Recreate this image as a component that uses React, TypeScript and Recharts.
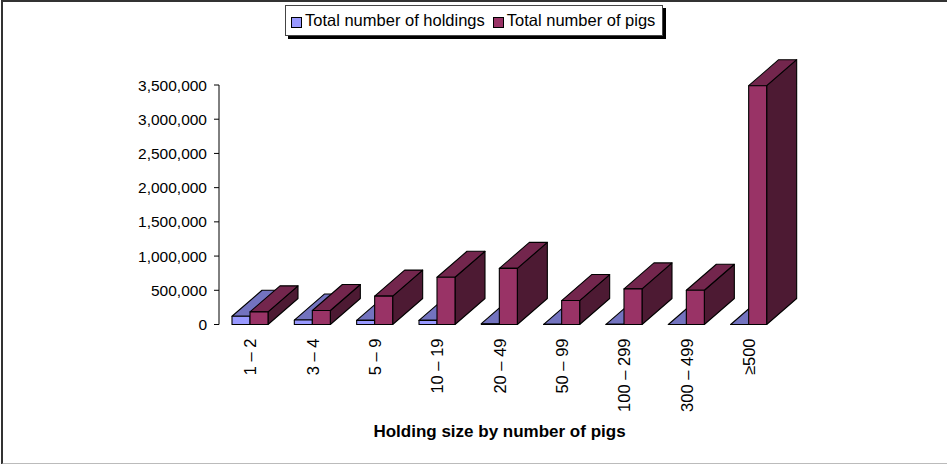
import React from 'react';
import { BarChart, Bar, XAxis, YAxis, Legend } from 'recharts';

const categories = ['1 – 2', '3 – 4', '5 – 9', '10 – 19', '20 – 49', '50 – 99', '100 – 299', '300 – 499', '≥500'];
const holdings = [120000, 65000, 60000, 60000, 12000, 2500, 1500, 500, 300];
const pigs = [185000, 205000, 415000, 690000, 820000, 350000, 520000, 500000, 3490000];
const yTicks = [0, 500000, 1000000, 1500000, 2000000, 2500000, 3000000, 3500000];

const data = categories.map((name, i) => ({ name, holdings: holdings[i], pigs: pigs[i] }));

const DX = 30;
const DY = 26;

function box(colors: { front: string; top: string; side: string }) {
  return (p: any) => {
    const { x, y, width: w, height: h } = p;
    const st = { stroke: '#000', strokeWidth: 1.1, strokeLinejoin: 'round' as const };
    return (
      <g>
        <path d={`M${x + w},${y}L${x + w + DX},${y - DY}V${y + h - DY}L${x + w},${y + h}Z`} fill={colors.side} {...st} />
        <path d={`M${x},${y}L${x + DX},${y - DY}H${x + w + DX}L${x + w},${y}Z`} fill={colors.top} {...st} />
        <rect x={x} y={y} width={w} height={h} fill={colors.front} {...st} />
      </g>
    );
  };
}

const Tick = (p: any) => (
  <text
    transform={`translate(${p.x},${p.y + 6}) rotate(-90)`}
    textAnchor="end"
    dominantBaseline="central"
    fontSize={16.5}
    fontFamily="Liberation Sans"
    fill="#000"
  >
    {p.payload.value}
  </text>
);

const LegendBox = () => (
  <div style={{ position: 'relative', width: 378, height: 31 }}>
    <div style={{ position: 'absolute', left: 3, top: 3, width: 378, height: 31, background: '#000' }} />
    <div
      style={{
        position: 'absolute', left: 0, top: 0, width: 376, height: 29, background: '#fff',
        border: '1px solid #444', display: 'flex', alignItems: 'center',
        font: '16.5px "Liberation Sans"', color: '#000', whiteSpace: 'nowrap',
      }}
    >
      <span style={{ width: 9, height: 9, border: '1px solid #000', background: '#9999ff', marginLeft: 5, marginTop: 3 }} />
      <span style={{ marginLeft: 3 }}>Total number of holdings</span>
      <span style={{ width: 9, height: 9, border: '1px solid #000', background: '#993366', marginLeft: 8, marginTop: 3 }} />
      <span style={{ marginLeft: 3 }}>Total number of pigs</span>
    </div>
  </div>
);

export default function App() {
  return (
    <div style={{ position: 'absolute', left: 0, top: 0, width: 947, height: 464, background: '#fff', overflow: 'hidden' }}>
      <div style={{ position: 'absolute', left: 1, top: 0, width: 946, height: 461, borderLeft: '2px solid #333', borderTop: '2px solid #333', borderBottom: '2px solid #bbb', boxSizing: 'content-box' }} />
      <BarChart
        width={947}
        height={464}
        data={data}
        margin={{ top: 85, right: 167, bottom: 19.5, left: 139 }}
        barSize={18}
        barGap={0}
        style={{ position: 'absolute', left: 0, top: 0 }}
      >
        <XAxis
          dataKey="name"
          axisLine={false}
          tickLine={false}
          interval={0}
          tick={<Tick />}
          height={120}
          label={{ value: 'Holding size by number of pigs', position: 'insideBottom', dy: -3, style: { font: 'bold 17px "Liberation Sans"', fill: '#000' } }}
        />
        <YAxis
          width={80}
          domain={[0, 3500000]}
          ticks={yTicks}
          interval={0}
          tickFormatter={(v: number) => v.toLocaleString('en-US')}
          tick={{ fontSize: 15.5, fontFamily: 'Liberation Sans', fill: '#000' }}
          axisLine={{ stroke: '#000' }}
          tickLine={{ stroke: '#000' }}
          tickSize={5}
          tickMargin={7}
        />
        <Legend
          verticalAlign="middle"
          align="center"
          content={<LegendBox />}
          wrapperStyle={{ position: 'absolute', left: 285, top: 5, width: 382, height: 35 }}
        />
        <Bar dataKey="holdings" isAnimationActive={false} shape={box({ front: '#9999ff', top: '#7373bf', side: '#4d4d80' })} />
        <Bar dataKey="pigs" isAnimationActive={false} shape={box({ front: '#993366', top: '#73264d', side: '#4d1a33' })} />
      </BarChart>
    </div>
  );
}
